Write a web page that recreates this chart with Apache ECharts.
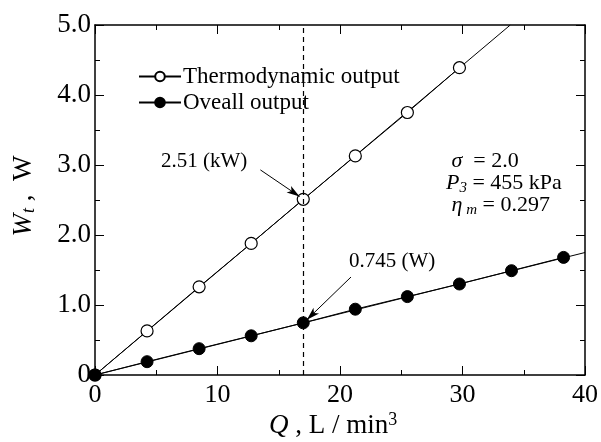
<!DOCTYPE html>
<html>
<head>
<meta charset="utf-8">
<script src="https://cdn.jsdelivr.net/npm/echarts@6/dist/echarts.min.js"></script>
<style>
  html, body { margin: 0; padding: 0; background: #fff; }
  #main { width: 601px; height: 442px; }
</style>
</head>
<body>
<div id="main"></div>
<script>
// flow rate Q (L/min) and measured outputs (W)
var flowQ = [0, 4.25, 8.5, 12.75, 17, 21.25, 25.5, 29.75];
var thermoOut = [0, 0.63, 1.26, 1.88, 2.51, 3.13, 3.75, 4.39];
var flowQ2 = [0, 4.25, 8.5, 12.75, 17, 21.25, 25.5, 29.75, 34, 38.25];
var overallOut = [0, 0.19, 0.376, 0.56, 0.745, 0.94, 1.12, 1.30, 1.49, 1.68];
// straight fit lines through origin, running to the frame
var thermoFit = [[0, 0], [33.9, 5.0]];
var overallFit = [[0, 0], [40, 1.75]];
var refQ = 17;
var xTicks = [0, 10, 20, 30, 40];

var FONT = 'Liberation Serif';

function pairs(xs, ys) {
    var out = [];
    for (var i = 0; i < xs.length; i++) out.push([xs[i], ys[i]]);
    return out;
}

var myChart = echarts.init(document.getElementById('main'));

var frameAxis = {
    axisLine: { show: true, onZero: false, lineStyle: { color: '#000', width: 1.5 } },
    axisTick: { show: true, inside: true, length: 9, lineStyle: { color: '#000', width: 1 } },
    minorTick: { show: true, splitNumber: 2, length: 5, lineStyle: { color: '#000', width: 1 } },
    splitLine: { show: false }
};

var option = {
    backgroundColor: '#fff',
    animation: false,
    textStyle: { fontFamily: FONT },
    grid: { left: 95, right: 16, top: 25, bottom: 67 },
    legend: {
        orient: 'vertical',
        left: 133,
        top: 60,
        itemWidth: 42,
        itemHeight: 12,
        itemGap: 3,
        data: ['Thermodynamic output', 'Oveall output'],
        textStyle: { fontFamily: FONT, fontSize: 23, color: '#000', padding: [0, 0, 0, -3] }
    },
    xAxis: [
        Object.assign({
            type: 'value', min: 0, max: 40, interval: 10, position: 'bottom',
            axisLabel: {
                fontFamily: FONT, fontSize: 26, color: '#000', margin: 7,
                formatter: function (v) { return xTicks.indexOf(v) >= 0 ? String(v) : ''; }
            }
        }, frameAxis),
        Object.assign({
            type: 'value', min: 0, max: 40, interval: 10, position: 'top',
            axisLabel: { show: false }
        }, frameAxis)
    ],
    yAxis: [
        Object.assign({
            type: 'value', min: 0, max: 5, interval: 1, position: 'left',
            axisLabel: {
                fontFamily: FONT, fontSize: 27, color: '#000', margin: 4,
                formatter: function (v) { return v === 0 ? '0' : v.toFixed(1); }
            }
        }, frameAxis),
        Object.assign({
            type: 'value', min: 0, max: 5, interval: 1, position: 'right',
            axisLabel: { show: false }
        }, frameAxis)
    ],
    graphic: [
        {
            type: 'text', left: 161, top: 151,
            style: { text: '2.51 (kW)', fontFamily: FONT, fontSize: 21, fill: '#000' }
        },
        {
            type: 'text', left: 349, top: 251,
            style: { text: '0.745 (W)', fontFamily: FONT, fontSize: 21, fill: '#000' }
        },
        {
            type: 'text', left: 446, top: 150,
            style: {
                fontFamily: FONT, fontSize: 22, fill: '#000', lineHeight: 22,
                text: ' {i|σ}  = 2.0\n{i|P}{s|3} = 455 kPa\n {i|η}{s| m} = 0.297',
                rich: {
                    i: { fontFamily: FONT, fontStyle: 'italic', fontSize: 22 },
                    s: { fontFamily: FONT, fontSize: 15, fontStyle: 'italic', padding: [10, 0, 0, 0] }
                }
            }
        },
        {
            type: 'text', x: 24, y: 196, rotation: Math.PI / 2,
            style: {
                align: 'center', verticalAlign: 'middle',
                fontFamily: FONT, fontSize: 27, fill: '#000',
                text: '{i|W}{s|t}{n| ,  W}',
                rich: {
                    i: { fontFamily: FONT, fontStyle: 'italic', fontSize: 27 },
                    s: { fontFamily: FONT, fontStyle: 'italic', fontSize: 18, padding: [11, 0, 0, 1] },
                    n: { fontFamily: FONT, fontSize: 27 }
                }
            }
        },
        {
            type: 'text', left: 269, top: 411,
            style: {
                fontFamily: FONT, fontSize: 27, fill: '#000',
                text: '{i|Q}{n| , L / min}{p|3}',
                rich: {
                    i: { fontFamily: FONT, fontStyle: 'italic', fontSize: 27 },
                    n: { fontFamily: FONT, fontSize: 27 },
                    p: { fontFamily: FONT, fontSize: 18, padding: [0, 0, 11, 0] }
                }
            }
        }
    ],
    series: [
        {
            type: 'line', data: thermoFit, symbol: 'none', silent: true,
            lineStyle: { color: '#000', width: 1 }, z: 2,
            markLine: {
                silent: true, symbol: ['none', 'none'], label: { show: false },
                lineStyle: { color: '#000', width: 1.2, type: [5, 4] },
                data: [{ xAxis: refQ }]
            }
        },
        {
            type: 'line', data: overallFit, symbol: 'none', silent: true,
            lineStyle: { color: '#000', width: 1 }, z: 2,
            markLine: {
                silent: true, symbol: ['none', 'arrow'], symbolSize: [6, 13], label: { show: false },
                lineStyle: { color: '#000', width: 1, type: 'solid' },
                data: [
                    [{ coord: [13.5, 2.93] }, { coord: [16.7, 2.55] }],
                    [{ coord: [20.9, 1.4] }, { coord: [17.3, 0.79] }]
                ]
            }
        },
        {
            name: 'Thermodynamic output', type: 'line', data: pairs(flowQ, thermoOut),
            symbol: 'circle', symbolSize: 12, z: 3,
            lineStyle: { color: '#000', width: 1 },
            itemStyle: { color: '#fff', borderColor: '#000', borderWidth: 1.2 }
        },
        {
            name: 'Oveall output', type: 'line', data: pairs(flowQ2, overallOut),
            symbol: 'circle', symbolSize: 12, z: 4,
            lineStyle: { color: '#000', width: 1 },
            itemStyle: { color: '#000', borderColor: '#000', borderWidth: 1 }
        }
    ]
};

myChart.setOption(option);
</script>
</body>
</html>
